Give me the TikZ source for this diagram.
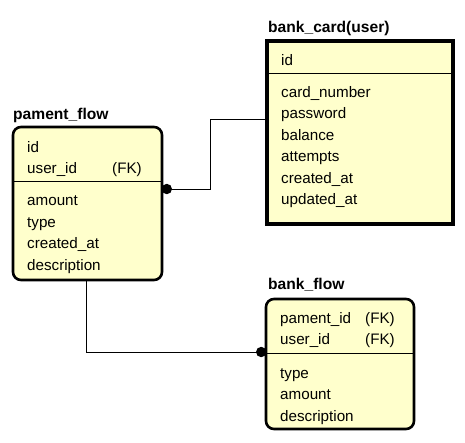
\documentclass[tikz,border=0pt]{standalone}
\usepackage{fontspec}
\setmainfont{Liberation Sans}
\usepackage{tikz}
\usetikzlibrary{decorations.markings}
\definecolor{entityfill}{RGB}{255,255,204}
\tikzset{dotstart/.style = {decoration={markings,
                                        mark=at position 0 with {\fill (3.5pt, 0) circle (5.2pt);}},
                            postaction={decorate}}}
\tikzset{entity/.style = {draw, fill = entityfill, inner sep = 0pt},
         field/.style = {anchor = base west, inner sep = 0pt, font = \fontsize{15.2}{18}\selectfont},
         title/.style = {anchor = base west, inner sep = 0pt, font = \fontsize{15.6}{18}\selectfont\bfseries}}

\begin{document}
\begin{tikzpicture}[x = 1pt, y = -1pt]
      \useasboundingbox (0, 0) rectangle (465, 442);
      % tables
      \node [entity, line width = 2.6pt, rounded corners = 8pt,
             minimum width = 149pt, minimum height = 153pt] (pament) at (87.5, 203.5) {};
      \node [entity, line width = 3.4pt,
             minimum width = 186pt, minimum height = 183pt] (bankcard) at (360, 132.5) {};
      \node [entity, line width = 2.6pt, rounded corners = 8pt,
             minimum width = 148pt, minimum height = 130pt] (bankflow) at (340, 364) {};
      \draw (13, 181) -- (162, 181);
      \draw (267, 73) -- (453, 73);
      \draw (266, 353) -- (414, 353);
      % titles
      \node [title] (pament-title) at (13, 119) {pament\_flow};
      \node [title] (bankcard-title) at (268, 32) {bank\_card(user)};
      \node [title] (bankflow-title) at (268, 289) {bank\_flow};
      % pament_flow fields
      \node [field] (pament-id) at (27, 152) {id};
      \node [field] (pament-user) at (27, 173.5) {user\_id};
      \node [field] (pament-fk) at (112, 173.5) {(FK)};
      \node [field] (pament-amount) at (27, 205.5) {amount};
      \node [field] (pament-type) at (27, 227) {type};
      \node [field] (pament-created) at (27, 248.5) {created\_at};
      \node [field] (pament-desc) at (27, 270) {description};
      % bank_card fields
      \node [field] (bankcard-id) at (281, 65) {id};
      \node [field] (bankcard-number) at (281, 97) {card\_number};
      \node [field] (bankcard-password) at (281, 118.5) {password};
      \node [field] (bankcard-balance) at (281, 140) {balance};
      \node [field] (bankcard-attempts) at (281, 161.5) {attempts};
      \node [field] (bankcard-created) at (281, 183) {created\_at};
      \node [field] (bankcard-updated) at (281, 204.5) {updated\_at};
      % bank_flow fields
      \node [field] (bankflow-pament) at (280, 323) {pament\_id};
      \node [field] (bankflow-pamentfk) at (365, 323) {(FK)};
      \node [field] (bankflow-user) at (280, 344.5) {user\_id};
      \node [field] (bankflow-userfk) at (365, 344.5) {(FK)};
      \node [field] (bankflow-type) at (280, 378) {type};
      \node [field] (bankflow-amount) at (280, 399.5) {amount};
      \node [field] (bankflow-desc) at (280, 421) {description};
      % relations
      \draw [dotstart] ([yshift = 14.5pt] pament.east) -- ++(47, 0) |- ([yshift = 13.5pt] bankcard.west);
      \draw [dotstart] ([yshift = 12pt] bankflow.west) -| ([xshift = -1.5pt] pament.south);
    \end{tikzpicture}
\end{document}
